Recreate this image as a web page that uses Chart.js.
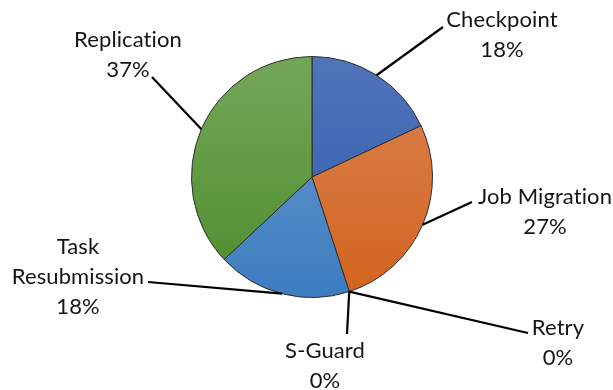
<!DOCTYPE html>
<html>
<head>
<meta charset="utf-8">
<script src="https://cdn.jsdelivr.net/npm/chart.js@4.4.1/dist/chart.umd.min.js"></script>
<style>
  html, body { margin: 0; padding: 0; background: #ffffff; }
  #wrap { width: 613px; height: 390px; }
</style>
</head>
<body>
<div id="wrap"><canvas id="pie" width="613" height="390"></canvas></div>
<script>
// Share of fault-tolerance techniques (percent)
const categories = ['Checkpoint', 'Job Migration', 'Retry', 'S-Guard', 'Task Resubmission', 'Replication'];
const shares = [18, 27, 0, 0, 18, 37];
const percentLabels = ['18%', '27%', '0%', '0%', '18%', '37%'];

// Slice colours: light (top) to dark (bottom)
const topColors = ['#5174b9', '#dc8455', '#6b9dcf', '#73a758'];
const bottomColors = ['#2d5bae', '#d1631c', '#3c7cbf', '#4d8c2c'];
const colorIndex = [0, 1, 1, 2, 2, 3];

// Label placement, offsets from the pie centre:
// leader end point (ex, ey), text centre x (tx) and first-line centre y (ty)
const labelLayout = [
  { ex: 131, ey: -150, tx: 190, ty: -157, lines: ['Checkpoint'] },
  { ex: 160, ey: 25, tx: 233, ty: 20, lines: ['Job Migration'] },
  { ex: 216, ey: 156, tx: 246, ty: 151, lines: ['Retry'] },
  { ex: 35, ey: 157, tx: 13, ty: 174, lines: ['S-Guard'] },
  { ex: -164, ey: 105, tx: -234, ty: 70, lines: ['Task', 'Resubmission'] },
  { ex: -160, ey: -100, tx: -184, ty: -137, lines: ['Replication'] }
];

function sliceGradient(ctx, i) {
  const chart = ctx.chart;
  const area = chart.chartArea;
  if (!area) return topColors[colorIndex[i]];
  const g = chart.ctx.createLinearGradient(0, area.top, 0, area.bottom);
  g.addColorStop(0, topColors[colorIndex[i]]);
  g.addColorStop(1, bottomColors[colorIndex[i]]);
  return g;
}

const leaderLabels = {
  id: 'leaderLabels',
  afterDatasetsDraw(chart) {
    const c = chart.ctx;
    const arcs = chart.getDatasetMeta(0).data;
    c.save();
    arcs.forEach((arc, i) => {
      const p = arc.getProps(['x', 'y', 'startAngle', 'endAngle', 'outerRadius'], true);
      const mid = (p.startAngle + p.endAngle) / 2;
      const sx = p.x + Math.cos(mid) * p.outerRadius;
      const sy = p.y + Math.sin(mid) * p.outerRadius;
      const L = labelLayout[i];
      c.beginPath();
      c.moveTo(sx, sy);
      c.lineTo(p.x + L.ex, p.y + L.ey);
      c.strokeStyle = '#000000';
      c.lineWidth = 2.2;
      c.stroke();

      const lines = L.lines.concat([percentLabels[i]]);
      c.fillStyle = '#141414';
      c.font = '22px Lato, "Open Sans", sans-serif';
      if ('letterSpacing' in c) c.letterSpacing = '0.1px';
      c.textAlign = 'center';
      c.textBaseline = 'middle';
      lines.forEach((t, k) => {
        c.fillText(t, p.x + L.tx, p.y + L.ty + k * 30);
      });
    });
    c.restore();
  }
};

new Chart(document.getElementById('pie'), {
  type: 'pie',
  data: {
    labels: categories,
    datasets: [{
      data: shares,
      backgroundColor: (ctx) => sliceGradient(ctx, ctx.dataIndex),
      borderColor: '#2e2e2e',
      borderWidth: 1
    }]
  },
  options: {
    responsive: false,
    animation: false,
    layout: { padding: { top: 56, bottom: 92, left: 191, right: 180 } },
    plugins: {
      legend: { display: false },
      tooltip: { enabled: false }
    }
  },
  plugins: [leaderLabels]
});
</script>
</body>
</html>
